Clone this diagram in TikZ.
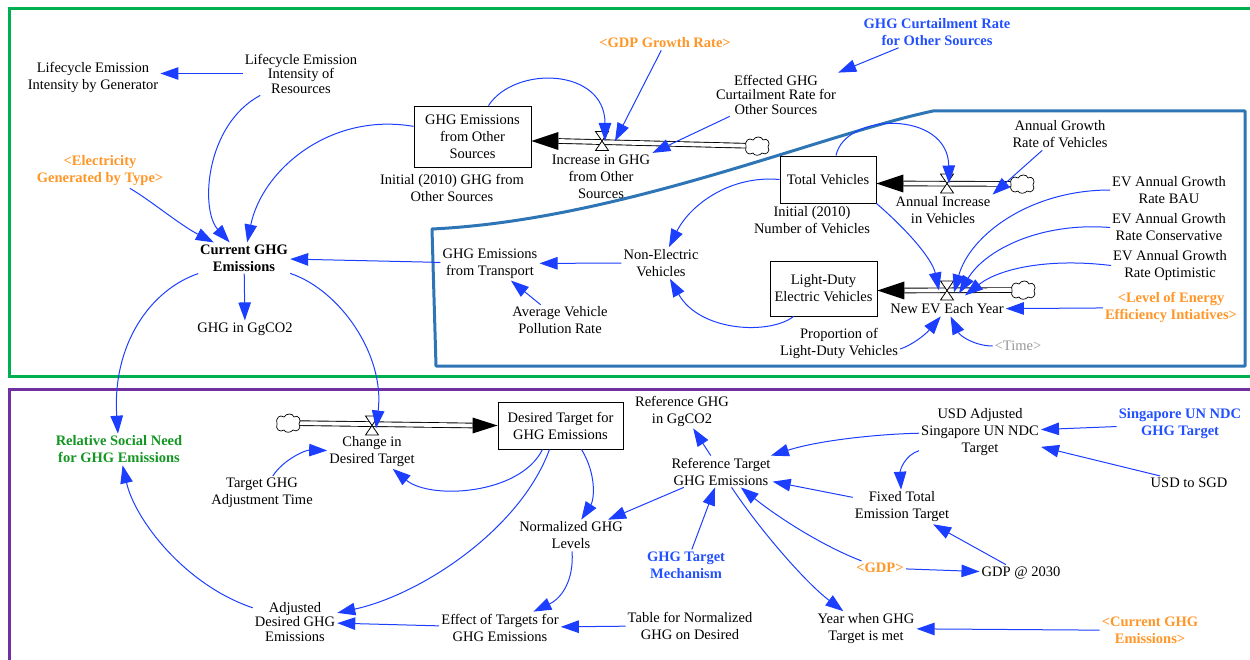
\documentclass[tikz,border=0pt]{standalone}
\usepackage{fontspec}
\setmainfont{Liberation Serif}
\usetikzlibrary{arrows.meta,calc}

\definecolor{linkblue}{RGB}{28,62,255}
\definecolor{varorange}{RGB}{255,150,40}
\definecolor{parblue}{RGB}{35,80,255}
\definecolor{needgreen}{RGB}{20,150,35}
\definecolor{timegray}{RGB}{150,150,150}
\definecolor{framegreen}{RGB}{0,176,80}
\definecolor{framepurple}{RGB}{112,48,160}
\definecolor{frameblue}{RGB}{46,117,182}

\tikzset{
  valve/.pic={
    \draw[black, fill=white, line width=0.8pt, line join=miter]
      (-6.5,-9.5) -- (6.5,-9.5) -- (-6.5,9.5) -- (6.5,9.5) -- cycle;
  },
  cloud/.pic={
    \draw[black, fill=white, line width=0.7pt]
      (-11,1) .. controls (-13,-5) and (-8,-9) .. (-4,-6)
      .. controls (-2,-10) and (5,-10) .. (6,-6)
      .. controls (10,-9) and (14,-3) .. (11,1)
      .. controls (14,5) and (9,10) .. (5,7)
      .. controls (3,10) and (-3,10) .. (-4,7)
      .. controls (-8,10) and (-13,6) .. (-11,1) -- cycle;
  }
}

\begin{document}
\begin{tikzpicture}[x=1pt,y=-1pt,
  lbl/.style={align=center, font=\fontsize{14.5}{17}\selectfont, inner sep=2pt, text=black},
  tightlbl/.style={lbl, font=\fontsize{14.5}{14.5}\selectfont},
  boldlbl/.style={lbl, font=\fontsize{14.5}{17}\selectfont\bfseries},
  orangelbl/.style={boldlbl, text=varorange},
  bluelbl/.style={boldlbl, text=parblue},
  greenlbl/.style={boldlbl, text=needgreen},
  graylbl/.style={lbl, text=timegray},
  stockbox/.style={lbl, draw=black, line width=0.9pt, inner sep=0pt},
  infolink/.style={linkblue, line width=1pt, -{Triangle[length=18pt,width=12.5pt]}},
  flowpipe/.style={black, line width=0.9pt, double=white, double distance=3.8pt},
  valvespot/.style={inner sep=0pt, minimum width=13pt, minimum height=19pt},
  cloudspot/.style={inner sep=0pt, minimum width=23pt, minimum height=17pt},
  framebox/.style={line width=3pt}
]
\useasboundingbox (0,0) rectangle (1250,660);

% ---------- sector frames ----------
\draw[framebox, framegreen] (9,9) rectangle (1265,376);
\draw[framebox, framepurple] (9,389) rectangle (1265,675);
\draw[framebox, frameblue, line join=round]
  (432,229) .. controls (620,220) and (820,135) .. (933,111)
  -- (1245,111) -- (1245,366) -- (436,366) -- cycle;

% ---------- variables: emissions sector ----------
\node[lbl] (lbg) at (93,77) {Lifecycle Emission\\Intensity by Generator};
\node[tightlbl] (lir) at (301,73.5) {Lifecycle Emission\\Intensity of\\Resources};
\node[orangelbl] (egt) at (100,171) {<Electricity\\Generated by Type>};
\node[boldlbl] (cur) at (244,258) {Current GHG\\Emissions};
\node[lbl] (ggc) at (245,329) {GHG in GgCO2};
\node[stockbox, minimum width=117pt, minimum height=61pt] (gos) at (472.5,136.5) {GHG Emissions\\from Other\\Sources};
\node[lbl] (gosi) at (452,187.5) {Initial (2010) GHG from\\Other Sources};
\node[lbl] (igos) at (601,177) {Increase in GHG\\from Other\\Sources};
\node[orangelbl] (gdpr) at (665,43) {<GDP Growth Rate>};
\node[tightlbl] (egcr) at (776,94.5) {Effected GHG\\Curtailment Rate for\\Other Sources};
\node[bluelbl] (gcr) at (937,32) {GHG Curtailment Rate\\for Other Sources};

% ---------- variables: transport sector ----------
\node[stockbox, minimum width=96pt, minimum height=47pt] (tv) at (828,179.5) {Total Vehicles};
\node[lbl] (tvi) at (812,220) {Initial (2010)\\Number of Vehicles};
\node[lbl] (aiv) at (943,210.5) {Annual Increase\\in Vehicles};
\node[lbl] (agr) at (1060,134.5) {Annual Growth\\Rate of Vehicles};
\node[stockbox, minimum width=107pt, minimum height=55pt] (ldev) at (823.5,288.5) {Light-Duty\\Electric Vehicles};
\node[lbl] (nev) at (947,309) {New EV Each Year};
\node[lbl] (pldv) at (839,343) {Proportion of\\Light-Duty Vehicles};
\node[graylbl] (time) at (1018,346) {<Time>};
\node[orangelbl] (leei) at (1171,307.5) {<Level of Energy\\Efficiency Intiatives>};
\node[lbl] (bau) at (1169,190) {EV Annual Growth\\Rate BAU};
\node[lbl] (cons) at (1169,227.5) {EV Annual Growth\\Rate Conservative};
\node[lbl] (opt) at (1170,265.5) {EV Annual Growth\\Rate Optimistic};
\node[lbl] (nonev) at (661,263) {Non-Electric\\Vehicles};
\node[lbl] (gtr) at (490,263.5) {GHG Emissions\\from Transport};
\node[lbl] (avpr) at (560,320.5) {Average Vehicle\\Pollution Rate};

% ---------- variables: target sector ----------
\node[stockbox, minimum width=125pt, minimum height=47pt] (dt) at (560.5,425.5) {Desired Target for\\GHG Emissions};
\node[lbl] (cidt) at (372,451.5) {Change in\\Desired Target};
\node[lbl] (tgat) at (262,493) {Target GHG\\Adjustment Time};
\node[greenlbl] (rsn) at (119,449.5) {Relative Social Need\\for GHG Emissions};
\node[lbl] (rgg) at (682,411) {Reference GHG\\in GgCO2};
\node[lbl] (rtge) at (721,471.5) {Reference Target\\GHG Emissions};
\node[lbl] (ngl) at (571,535.5) {Normalized GHG\\Levels};
\node[bluelbl] (gtm) at (686,565) {GHG Target\\Mechanism};
\node[lbl] (etg) at (500,627.5) {Effect of Targets for\\GHG Emissions};
\node[lbl] (tng) at (690,625.5) {Table for Normalized\\GHG on Desired};
\node[tightlbl] (adg) at (295,622) {Adjusted\\Desired GHG\\Emissions};
\node[lbl] (usd) at (980,432) {USD Adjusted\\Singapore UN NDC\\Target};
\node[bluelbl] (sun) at (1180,424) {Singapore UN NDC\\GHG Target};
\node[lbl] (u2s) at (1189,483) {USD to SGD};
\node[lbl] (fte) at (902,507) {Fixed Total\\Emission Target};
\node[orangelbl] (gdp) at (880,568) {<GDP>};
\node[lbl] (g30) at (1021,573) {GDP @ 2030};
\node[lbl] (ywg) at (866,628.5) {Year when GHG\\Target is met};
\node[orangelbl] (cge) at (1150,630.5) {<Current GHG\\Emissions>};

% ---------- flows: valves and clouds ----------
\node[valvespot] (vgos) at (602,141) {};
\node[cloudspot] (cgos) at (757,146) {};
\node[valvespot] (vtv) at (947,183.5) {};
\node[cloudspot] (ctv) at (1022,184) {};
\node[valvespot] (vev) at (947,290.5) {};
\node[cloudspot] (cev) at (1023,290) {};
\node[valvespot] (vdt) at (372,425.5) {};
\node[cloudspot] (cdt) at (288,423) {};

\coordinate (gosin) at (gos.east |- vgos);
\coordinate (tvin) at (tv.east |- vtv);
\coordinate (evin) at (ldev.east |- vev);
\coordinate (dtin) at (dt.west |- vdt);

\draw[flowpipe] ([xshift=27pt]gosin) -- (cgos.center);
\draw[flowpipe] ([xshift=27pt]tvin) -- (ctv.center);
\draw[flowpipe] ([xshift=27pt]evin) -- (cev.center);
\draw[flowpipe] ([xshift=-25pt]dtin) -- (cdt.center);

\fill[black] ([xshift=27pt,yshift=9pt]gosin) -- (gosin) -- ([xshift=27pt,yshift=-9pt]gosin) -- cycle;
\fill[black] ([xshift=27pt,yshift=9pt]tvin) -- (tvin) -- ([xshift=27pt,yshift=-9pt]tvin) -- cycle;
\fill[black] ([xshift=27pt,yshift=9pt]evin) -- (evin) -- ([xshift=27pt,yshift=-9pt]evin) -- cycle;
\fill[black] ([xshift=-25pt,yshift=8pt]dtin) -- (dtin) -- ([xshift=-25pt,yshift=-8pt]dtin) -- cycle;

\pic at (vgos) {valve};
\pic at (vtv) {valve};
\pic at (vev) {valve};
\pic at (vdt) {valve};
\pic at (cgos) {cloud};
\pic at (ctv) {cloud};
\pic at (cev) {cloud};
\pic at (cdt) {cloud};

% ---------- information links: emissions sector ----------
\draw[infolink] (lir.west) -- (lir.west -| lbg.east);
\draw[infolink] (lir) .. controls (205,125) and (200,210) .. (cur);
\draw[infolink] (egt) .. controls (150,200) and (180,225) .. (cur);
\draw[infolink] (gos) .. controls (330,112) and (262,170) .. (cur);
\draw[infolink] (gtr) -- (cur);
\draw[infolink] (cur) -- (ggc);
\draw[infolink] (cur) .. controls (150,290) and (112,345) .. (rsn);
\draw[infolink] (cur) .. controls (340,290) and (385,355) .. ([xshift=4pt,yshift=-3pt]vdt.center);
\draw[infolink] ([xshift=16pt]gos.north) .. controls (515,65) and (605,68) .. ([xshift=3pt]vgos.center);
\draw[infolink] (gdpr) -- ([xshift=13pt]vgos.center);
\draw[infolink] (egcr) -- (igos.north east);
\draw[infolink] (gcr) -- (egcr.north east);

% ---------- information links: transport sector ----------
\draw[infolink] ([xshift=8pt]tv.north) .. controls (845,112) and (948,110) .. ([xshift=2pt]vtv.center);
\draw[infolink] (agr) -- (aiv.north east);
\draw[infolink] (tv.south east) .. controls (905,228) and (932,258) .. ([xshift=-8pt]vev.center);
\draw[infolink] (bau.west) .. controls (1030,190) and (970,235) .. ([xshift=7pt,yshift=-2pt]vev.center);
\draw[infolink] (cons.west) .. controls (1040,222) and (985,250) .. ([xshift=12pt,yshift=-3pt]vev.center);
\draw[infolink] (opt.west) .. controls (1050,258) and (1000,268) .. ([xshift=18pt,yshift=-5pt]vev.center);
\draw[infolink] (leei) -- (nev);
\draw[infolink] ([yshift=-6pt]pldv.east) .. controls (912,345) and (925,335) .. (nev);
\draw[infolink] (time.west) .. controls (975,346) and (960,336) .. (nev);
\draw[infolink] (tv.west) .. controls (730,175) and (690,205) .. (nonev);
\draw[infolink] ([xshift=-30pt]ldev.south) .. controls (770,335) and (700,332) .. (nonev);
\draw[infolink] (nonev) -- (gtr);
\draw[infolink] (avpr) -- (gtr);

% ---------- information links: target sector ----------
\draw[infolink] (tgat) .. controls (283,460) and (305,450) .. (cidt);
\draw[infolink] ([xshift=-18pt]dt.south) .. controls (520,495) and (430,500) .. (cidt);
\draw[infolink] ([xshift=-11pt]dt.south) .. controls (520,530) and (420,595) .. (adg);
\draw[infolink] ([xshift=21pt]dt.south) .. controls (597,475) and (594,500) .. (ngl);
\draw[infolink] (rtge) -- (rgg);
\draw[infolink] (rtge) -- (ngl);
\draw[infolink] (gtm) -- (rtge);
\draw[infolink] (ngl) .. controls (574,580) and (562,598) .. (etg);
\draw[infolink] (tng) -- (etg);
\draw[infolink] (etg) -- (adg);
\draw[infolink] (adg) .. controls (185,585) and (135,520) .. (rsn);
\draw[infolink] (sun) -- (usd);
\draw[infolink] (u2s) -- (usd);
\draw[infolink] (usd) .. controls (880,434) and (820,440) .. (rtge);
\draw[infolink] (usd) .. controls (905,455) and (900,470) .. (fte);
\draw[infolink] (fte) -- (rtge);
\draw[infolink] (gdp) -- (g30);
\draw[infolink] (gdp) .. controls (820,545) and (775,515) .. (rtge);
\draw[infolink] (g30) -- (fte);
\draw[infolink] (rtge) .. controls (760,530) and (805,582) .. (ywg);
\draw[infolink] (cge) -- (ywg);
\end{tikzpicture}
\end{document}
